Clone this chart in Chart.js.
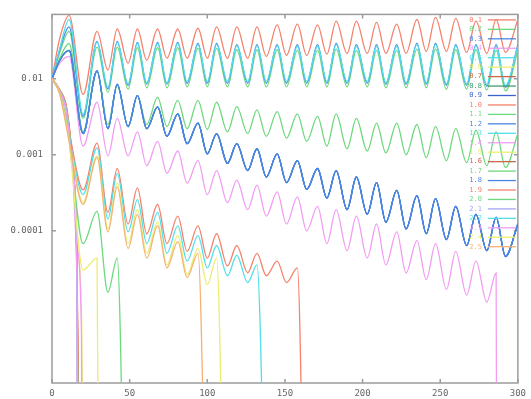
<!DOCTYPE html>
<html>
<head>
<meta charset="utf-8">
<script src="https://cdn.jsdelivr.net/npm/chart.js@4.4.1/dist/chart.umd.min.js"></script>
<style>
  html, body { margin: 0; padding: 0; background: #fff; }
  canvas { display: block; }
</style>
</head>
<body>
<canvas id="plot" width="531" height="399"></canvas>
<script>
// x positions of the peaks and troughs, shared by the long-lived curves
const sampleX = [0, 5, 11, 20, 29, 36, 42, 49, 55, 61, 68, 74, 81, 87, 94, 100, 106, 113, 119, 126,
  132, 138, 145, 151, 158, 164, 171, 177, 183, 190, 196, 203, 209, 215, 222, 228, 235, 241, 247, 254,
  260, 267, 273, 280, 286, 292, 300];
// the curves that collapse before x = 22 only need a few points
const earlyX = [0, 5, 9.5, 13, 16, 19];

const labels = ['0.1', '0.2', '0.3', '0.4', '0.5', '0.6', '0.7', '0.8', '0.9', '1.0', '1.1', '1.2', '1.3',
  '1.4', '1.5', '1.6', '1.7', '1.8', '1.9', '2.0', '2.1', '2.2', '2.3', '2.4', '2.5'];

const k01 = [0.010, 0.034, 0.068, 0.0062, 0.042, 0.013, 0.045, 0.016, 0.045, 0.0175, 0.045, 0.0186,
  0.045, 0.0186, 0.046, 0.0186, 0.048, 0.0186, 0.048, 0.0186, 0.048, 0.0197, 0.051, 0.0203, 0.052,
  0.0203, 0.051, 0.021, 0.057, 0.0215, 0.057, 0.0215, 0.055, 0.0215, 0.052, 0.0215, 0.060, 0.0229,
  0.064, 0.0229, 0.062, 0.0222, 0.057, 0.0215, 0.060, 0.0222, 0.060];
const k02 = [0.010, 0.022, 0.042, 0.0030, 0.026, 0.0066, 0.026, 0.0073, 0.0255, 0.0076, 0.0255, 0.0076,
  0.0255, 0.0078, 0.025, 0.0078, 0.025, 0.0078, 0.024, 0.0078, 0.024, 0.0078, 0.024, 0.0078, 0.0235,
  0.0078, 0.0235, 0.0078, 0.0245, 0.0078, 0.0235, 0.0078, 0.0235, 0.0076, 0.0235, 0.0076, 0.0245, 0.0076,
  0.0245, 0.0073, 0.024, 0.0073, 0.024, 0.0071, 0.0235, 0.0069, 0.0235];
const k03 = [0.010, 0.024, 0.048, 0.0032, 0.031, 0.0073, 0.031, 0.0082, 0.030, 0.0085, 0.030, 0.0085,
  0.030, 0.0087, 0.029, 0.0087, 0.029, 0.0087, 0.028, 0.0087, 0.028, 0.0087, 0.028, 0.0087, 0.028,
  0.0087, 0.028, 0.0087, 0.029, 0.0087, 0.028, 0.0087, 0.028, 0.0085, 0.028, 0.0085, 0.029, 0.0085,
  0.029, 0.0082, 0.028, 0.0082, 0.028, 0.0080, 0.028, 0.0077, 0.028];
const k04 = [0.010, 0.016, 0.0197, 0.0013, 0.0049, 0.00097, 0.0030, 0.00097, 0.0020, 0.00072, 0.0015,
  0.00057, 0.00112, 0.000425, 0.00084, 0.0003, 0.00062, 0.000235, 0.000465, 0.00019, 0.0004, 0.000156,
  0.000326, 0.000123, 0.00028, 0.0001, 0.00021, 0.000068, 0.00019, 0.000055, 0.000156, 0.000044,
  0.000123, 0.0000356, 0.000097, 0.000028, 0.0000744, 0.0000229, 0.000068, 0.000017, 0.0000538,
  0.0000143, 0.00004, 0.0000116, 0.000028];
const k05 = [0.010, 0.025, 0.060, 0.0034, 0.030, 0.0077, 0.030, 0.0086, 0.029, 0.0089, 0.029, 0.0089,
  0.029, 0.0092, 0.028, 0.0092, 0.028, 0.0092, 0.027, 0.0092, 0.027, 0.0092, 0.027, 0.0092, 0.0265,
  0.0092, 0.0265, 0.0092, 0.028, 0.0092, 0.0265, 0.0092, 0.0265, 0.0089, 0.0265, 0.0089, 0.028, 0.0089,
  0.028, 0.0086, 0.027, 0.0086, 0.027, 0.0084, 0.0265, 0.0081, 0.0265];
// 0.8, 0.9, 1.2 and 1.8 run on top of each other
const band = [0.010, 0.0175, 0.0235, 0.0019, 0.0127, 0.0022, 0.0084, 0.00235, 0.0060, 0.0022, 0.00425,
  0.00175, 0.00345, 0.0014, 0.0026, 0.00103, 0.0019, 0.00077, 0.0014, 0.00062, 0.0012, 0.00051,
  0.00103, 0.00043, 0.00084, 0.00035, 0.00066, 0.00027, 0.00062, 0.00019, 0.00051, 0.000165, 0.00043,
  0.00013, 0.00034, 0.000106, 0.00029, 0.000092, 0.000265, 0.000077, 0.00021, 0.000064, 0.000165,
  0.000055, 0.00015, 0.000046, 0.000123];
const k10 = [0.010, 0.0066, 0.0020, 0.000345, 0.00142, 0.000175, 0.00066, 0.000123, 0.000367,
  0.0000916, 0.000222, 0.000068, 0.000156, 0.0000538, 0.000116, 0.0000438, 0.0000916, 0.0000346,
  0.0000642, 0.0000281, 0.0000507, 0.0000257, 0.00004, 0.0000209, 0.0000326];
const k11 = [0.010, 0.0186, 0.029, 0.0020, 0.0127, 0.0025, 0.0081, 0.00235, 0.0060, 0.0025, 0.0057,
  0.00235, 0.0052, 0.0022, 0.0052, 0.00215, 0.0049, 0.0020, 0.0043, 0.0019, 0.0039, 0.00175, 0.0037,
  0.00165, 0.00345, 0.0015, 0.0032, 0.0013, 0.00345, 0.0012, 0.0030, 0.00112, 0.0026, 0.00106, 0.0026,
  0.0010, 0.0025, 0.00092, 0.00235, 0.00084, 0.0022, 0.00079, 0.0021, 0.00072, 0.0020, 0.00068, 0.0019];
const k13 = [0.010, 0.0064, 0.00175, 0.0003, 0.00123, 0.000143, 0.00057, 0.000097, 0.000257, 0.000068,
  0.000175, 0.0000507, 0.000116, 0.00004, 0.0000863, 0.0000326, 0.0000642, 0.0000257, 0.0000478,
  0.0000209, 0.0000356];
const k15 = [0.010, 0.0063, 0.0016, 0.000235, 0.00097, 0.000106, 0.000425, 0.000068, 0.00019,
  0.0000507, 0.00013, 0.0000356, 0.0000863, 0.0000265, 0.0000588, 0.0000197, 0.0000438];
const k17 = [0.010, 0.0065, 0.0017, 0.000068, 0.00018, 0.0000156, 0.0000438];
const k24 = [0.010, 0.0064, 0.0015, 0.0000307, 0.0000438];
const k25 = [0.010, 0.0063, 0.0015, 0.000222, 0.000915, 0.000097, 0.000378, 0.0000588, 0.000165,
  0.0000438, 0.000116, 0.0000326, 0.0000723, 0.0000243, 0.0000507];

// early collapse, on earlyX
const k06 = [0.01, 0.0072, 0.0042, 0.0009, 0.00007, 0.000008];
const k07 = [0.01, 0.0070, 0.0039, 0.00082, 0.000045];
const k14 = [0.01, 0.0071, 0.0041, 0.00088, 0.00006, 0.000004];
const k16 = [0.01, 0.0070, 0.0038, 0.0008, 0.00004];
const k19 = [0.01, 0.0071, 0.0040, 0.00085, 0.00005];
const k20 = [0.01, 0.0069, 0.0037, 0.00078, 0.000035];
const k21 = [0.01, 0.0068, 0.0034, 0.0007, 0.00002];
const k22 = [0.01, 0.0069, 0.0036, 0.00075, 0.00003];
const k23 = [0.01, 0.0068, 0.0035, 0.00072, 0.000025];

// where a curve hits zero (it leaves the log axis there)
const zeroAt = {
  '0.4': 286.5, '0.6': 21.2, '0.7': 18.3, '1.0': 163, '1.3': 138.3, '1.4': 19.4, '1.5': 111.5,
  '1.6': 18.0, '1.7': 47.5, '1.9': 18.7, '2.0': 17.6, '2.1': 16.4, '2.2': 17.2, '2.3': 16.8,
  '2.4': 30.3, '2.5': 100
};
const FLOOR = 1e-9;

const yTicks = [0.01, 0.001, 0.0001];
const yTickLabels = ['0.01', '0.001', '0.0001'];

const RED = '#f4826c', GREEN = '#6ed87e', BLUE = '#4b86e6', PINK = '#f29cf2', CYAN = '#52dfe9',
  YELLOW = '#ecec6e', BROWN = '#c8684a', DKGREEN = '#3f9c6c', DKBLUE = '#3b62cc',
  LAVENDER = '#a4a4f6', ORANGE = '#f6b274';

const curves = [
  [RED, sampleX, k01], [GREEN, sampleX, k02], [BLUE, sampleX, k03], [PINK, sampleX, k04],
  [CYAN, sampleX, k05], [YELLOW, earlyX, k06], [BROWN, earlyX, k07], [DKGREEN, sampleX, band],
  [DKBLUE, sampleX, band], [RED, sampleX, k10], [GREEN, sampleX, k11], [BLUE, sampleX, band],
  [CYAN, sampleX, k13], [PINK, earlyX, k14], [YELLOW, sampleX, k15], [BROWN, earlyX, k16],
  [GREEN, sampleX, k17], [BLUE, sampleX, band], [RED, earlyX, k19], [GREEN, earlyX, k20],
  [LAVENDER, earlyX, k21], [CYAN, earlyX, k22], [PINK, earlyX, k23], [YELLOW, sampleX, k24],
  [ORANGE, sampleX, k25]
];

function toPoints(label, xs, ys) {
  const pts = ys.map((y, i) => ({ x: xs[i], y }));
  if (zeroAt[label] !== undefined) pts.push({ x: zeroAt[label], y: FLOOR });
  return pts;
}

const datasets = curves.map(([color, xs, ys], i) => ({
  label: labels[i],
  data: toPoints(labels[i], xs, ys),
  borderColor: color,
  borderWidth: 1.3,
  pointRadius: 0,
  fill: false,
  cubicInterpolationMode: 'monotone',
  order: curves.length - i
}));

const TICK_FONT = { family: '"DejaVu Sans Mono", monospace', size: 9 };

// box, inward tick marks and the key drawn inside the plot
const framePlugin = {
  id: 'frame',
  beforeDatasetsDraw(chart) {
    const { ctx, chartArea: a, scales: { x, y } } = chart;
    ctx.save();
    ctx.strokeStyle = '#9c9c9c';
    ctx.lineWidth = 1.5;
    ctx.strokeRect(a.left, a.top, a.right - a.left, a.bottom - a.top);
    ctx.beginPath();
    x.ticks.forEach(t => {
      const px = x.getPixelForValue(t.value);
      ctx.moveTo(px, a.bottom); ctx.lineTo(px, a.bottom - 4);
      ctx.moveTo(px, a.top); ctx.lineTo(px, a.top + 4);
    });
    y.ticks.forEach(t => {
      const py = y.getPixelForValue(t.value);
      ctx.moveTo(a.left, py); ctx.lineTo(a.left + 4, py);
      ctx.moveTo(a.right, py); ctx.lineTo(a.right - 4, py);
    });
    ctx.stroke();
    ctx.restore();
  },
  afterDatasetsDraw(chart) {
    const { ctx, chartArea: a } = chart;
    ctx.save();
    ctx.font = '7px "DejaVu Sans Mono", monospace';
    ctx.textAlign = 'right';
    ctx.textBaseline = 'middle';
    chart.data.datasets.forEach((ds, i) => {
      const ry = a.top + 5.5 + i * 9.45;
      ctx.fillStyle = ds.borderColor;
      ctx.fillText(ds.label, a.right - 36, ry);
      ctx.strokeStyle = ds.borderColor;
      ctx.lineWidth = 1.3;
      ctx.beginPath();
      ctx.moveTo(a.right - 30, ry);
      ctx.lineTo(a.right - 2, ry);
      ctx.stroke();
    });
    ctx.restore();
  }
};

new Chart(document.getElementById('plot'), {
  type: 'line',
  data: { datasets },
  options: {
    responsive: false,
    animation: false,
    layout: { padding: { top: 5, right: 9, left: 0, bottom: 0 } },
    plugins: { legend: { display: false }, tooltip: { enabled: false } },
    scales: {
      x: {
        type: 'linear',
        min: 0,
        max: 300,
        grid: { display: false, drawTicks: false },
        border: { display: false },
        ticks: { stepSize: 50, color: '#666', font: TICK_FONT, padding: 5, maxRotation: 0 },
        afterFit: s => { s.height = 16; }
      },
      y: {
        type: 'logarithmic',
        min: 1e-6,
        max: 0.07,
        grid: { display: false, drawTicks: false },
        border: { display: false },
        afterBuildTicks: s => { s.ticks = yTicks.map(value => ({ value })); },
        ticks: {
          color: '#666',
          font: TICK_FONT,
          padding: 9,
          callback: (v, i) => yTickLabels[i]
        },
        afterFit: s => { s.width = 52; }
      }
    }
  },
  plugins: [framePlugin]
});
</script>
</body>
</html>
